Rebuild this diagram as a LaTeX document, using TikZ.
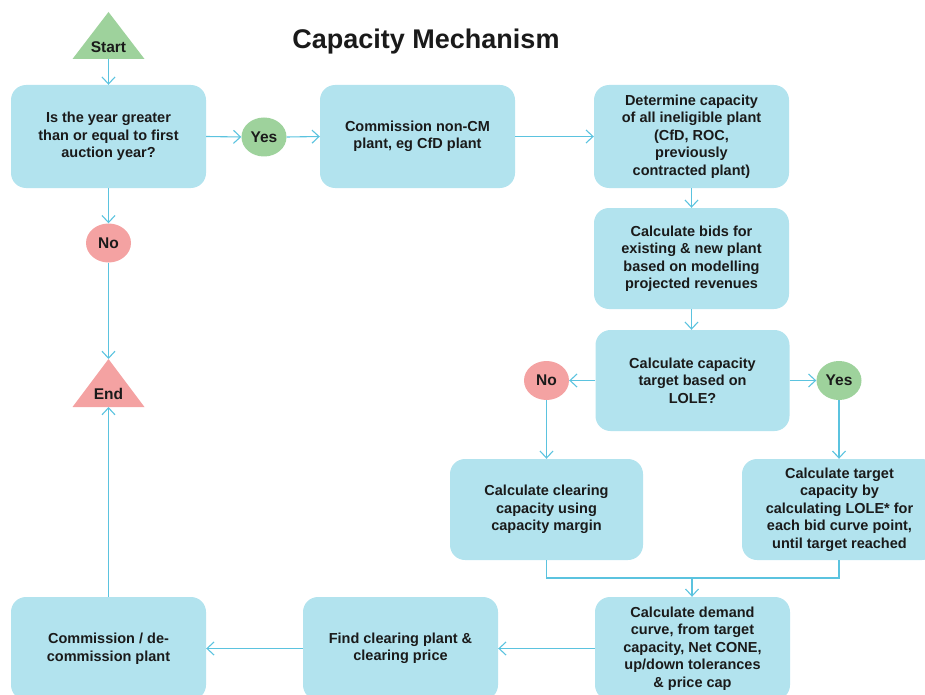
\documentclass[tikz,border=0pt]{standalone}
\usepackage{fontspec}
\setmainfont{Liberation Sans}
\usetikzlibrary{arrows.meta,shapes.geometric}
\definecolor{boxblue}{HTML}{B2E3EE}
\definecolor{linec}{HTML}{5BC3DF}
\definecolor{yesgreen}{HTML}{9ED29C}
\definecolor{nored}{HTML}{F4A2A2}
\definecolor{txt}{HTML}{1A1A1A}
\tikzset{
  proc/.style={fill=boxblue, rounded corners=15pt, minimum width=195pt, minimum height=103pt,
    align=center, inner sep=0pt, text=txt, font=\bfseries\fontsize{14.5}{17.5}\selectfont},
  yesc/.style={ellipse, fill=yesgreen, minimum width=45pt, minimum height=39pt, inner sep=0pt,
    text=txt, font=\bfseries\fontsize{15.5}{18}\selectfont},
  noc/.style={yesc, fill=nored},
  lbl/.style={text=txt, font=\bfseries\fontsize{15.5}{18}\selectfont, inner sep=0pt},
  link/.style={draw=linec, line width=1.1pt},
  conn/.style={link, -{Straight Barb[length=7pt,width=13pt,line width=1.1pt]}},
}
\begin{document}
\begin{tikzpicture}[x=1pt,y=-1pt]
\useasboundingbox (0,0) rectangle (925,695);
\clip (0,0) rectangle (925,695);
% title
\node[text=txt, font=\bfseries\fontsize{27}{31}\selectfont, inner sep=0pt] (title) at (426,42) {Capacity Mechanism};
% triangles
\fill[yesgreen] (108.5,12) -- (144.5,59) -- (72.5,59) -- cycle;
\node[lbl] (start) at (108.5,47) {Start};
\coordinate (startb) at (108.5,59);
\fill[nored] (108.5,359) -- (144.5,407) -- (72.5,407) -- cycle;
\node[lbl] (end) at (108.5,394) {End};
\coordinate (endtop) at (108.5,359);
\coordinate (endb) at (108.5,407);
% boxes
\node[proc] (b1) at (108.5,136.5) {Is the year greater\\than or equal to first\\auction year?};
\node[proc] (b2) at (417.5,136.5) {Commission non-CM\\plant, eg CfD plant};
\node[proc] (b3) at (691.5,136.5) {Determine capacity\\of all ineligible plant\\(CfD, ROC,\\previously\\contracted plant)};
\node[proc, minimum height=101pt] (b4) at (691.5,258.5) {Calculate bids for\\existing \& new plant\\based on modelling\\projected revenues};
\node[proc, minimum height=101pt, minimum width=194pt] (b5) at (692.5,380.5) {Calculate capacity\\target based on\\LOLE?};
\node[proc, minimum height=101pt, minimum width=193pt] (b6) at (546.5,509.5) {Calculate clearing\\capacity using\\capacity margin};
\node[proc, minimum height=101pt] (b7) at (839.5,509.5) {Calculate target\\capacity by\\calculating LOLE* for\\each bid curve point,\\until target reached};
\node[proc] (b8) at (692.5,648.5) {Calculate demand\\curve, from target\\capacity, Net CONE,\\up/down tolerances\\\& price cap};
\node[proc] (b9) at (400.5,648.5) {Find clearing plant \&\\clearing price};
\node[proc] (b10) at (108.5,648.5) {Commission / de-\\commission plant};
% decisions
\node[yesc] (y1) at (264,137) {Yes};
\node[noc] (n1) at (108.5,243) {No};
\node[noc] (n2) at (546.5,380.5) {No};
\node[yesc] (y2) at (839,380.5) {Yes};
% connectors
\draw[conn] (startb) -- (b1.north);
\draw[conn] (b1.east) -- (y1.west);
\draw[conn] (y1.east) -- (b2.west);
\draw[conn] (b2.east) -- (b3.west);
\draw[conn] (b3.south) -- (b4.north);
\draw[conn] (b4.south) -- (b5.north -| b4.south);
\draw[conn] (b5.west) -- (n2.east);
\draw[conn] (b5.east) -- (y2.west);
\draw[conn] (n2.south) -- (b6.north -| n2.south);
\draw[conn] (y2.south) -- (b7.north -| y2.south);
\coordinate (m) at (692,578);
\draw[link] (b6.south) |- (m);
\draw[link] (b7.south -| y2.south) |- (m);
\draw[conn] (m) -- (b8.north -| m);
\draw[conn] (b8.west) -- (b9.east);
\draw[conn] (b9.west) -- (b10.east);
\draw[conn] (b10.north) -- (endb);
\draw[conn] (b1.south) -- (n1.north);
\draw[conn] (n1.south) -- (endtop);
\end{tikzpicture}
\end{document}
